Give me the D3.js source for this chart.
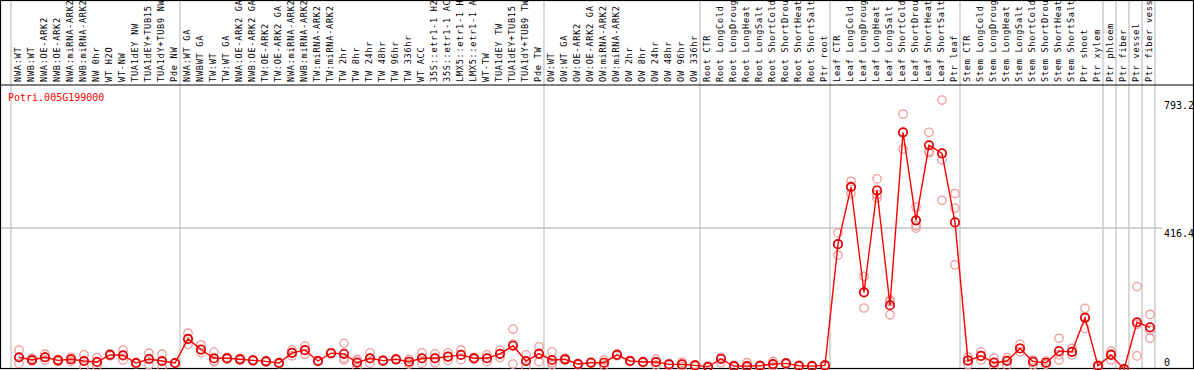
<!DOCTYPE html>
<meta charset="utf-8">
<html lang="en">
<head>
<title>Potri.005G199000</title>
<script src="https://d3js.org/d3.v7.min.js"></script>
<style>
  body { margin: 0; background: #fff; }
  svg text { font-family: "DejaVu Sans Mono", monospace; }
</style>
</head>
<body>
<svg id="chart" width="1194" height="370"></svg>
<script>

var geneId = "Potri.005G199000"

var samples = [
  "NWA:WT", "NWB:WT", "NWA:OE-ARK2", "NWB:OE-ARK2", "NWA:miRNA-ARK2", "NWB:miRNA-ARK2",
  "NW 0hr", "WT H2O", "WT-NW", "TUA1dEY NW", "TUA1dEY+TUB15", "TUA1dY+TUB9 NW", "Pde NW",
  "NWA:WT GA", "NWBWT GA", "TW:WT", "TW:WT GA", "NWA:OE-ARK2 GA", "NWB:OE-ARK2 GA",
  "TW:OE-ARK2", "TW:OE-ARK2 GA", "NWA:miRNA-ARK2", "NWB:miRNA-ARK2", "TW:miRNA-ARK2",
  "TW:miRNA-ARK2", "TW 2hr", "TW 8hr", "TW 24hr", "TW 48hr", "TW 96hr", "TW 336hr",
  "WT ACC", "35S::etr1-1 H2O", "35S::etr1-1 ACC", "LMX5::etr1-1 H2O", "LMX5::etr1-1 ACC",
  "WT-TW", "TUA1dEY TW", "TUA1dEY+TUB15", "TUA1dY+TUB9 TW", "Pde TW",
  "OW:WT", "OW:WT GA", "OW:OE-ARK2", "OW:OE-ARK2 GA", "OW:miRNA-ARK2", "OW:miRNA-ARK2",
  "OW 2hr", "OW 8hr", "OW 24hr", "OW 48hr", "OW 96hr", "OW 336hr",
  "Root CTR", "Root LongCold", "Root LongDrought", "Root LongHeat", "Root LongSalt",
  "Root ShortCold", "Root ShortDrought", "Root ShortHeat", "Root ShortSalt", "Ptr root",
  "Leaf CTR", "Leaf LongCold", "Leaf LongDrought", "Leaf LongHeat", "Leaf LongSalt",
  "Leaf ShortCold", "Leaf ShortDrought", "Leaf ShortHeat", "Leaf ShortSalt", "Ptr leaf",
  "Stem CTR", "Stem LongCold", "Stem LongDrought", "Stem LongHeat", "Stem LongSalt",
  "Stem ShortCold", "Stem ShortDrought", "Stem ShortHeat", "Stem ShortSalt",
  "Ptr shoot", "Ptr xylem", "Ptr phloem", "Ptr fiber", "Ptr vessel", "Ptr fiber vessel"
]

// first sample index of each group (last entry closes the chart)
var groupStarts = [0, 13, 41, 53, 63, 73, 84, 85, 86, 87, 88]

var yTicks = [0, 416.4, 793.2]

var means = [
  36, 28, 36, 27, 30, 25, 22, 43, 42, 19, 31, 25, 19,
  90, 59, 33, 33, 30, 27, 24, 19, 49, 57, 25, 48, 46, 20, 33, 26, 30, 23, 33, 33, 38, 43, 33, 33, 46, 70, 25, 46,
  28, 30, 16, 20, 20, 43, 25, 22, 22, 15, 15, 12,
  8, 31, 10, 10, 11, 16, 18, 11, 10, 12,
  369, 537, 227, 527, 189, 698, 439, 660, 636, 433,
  26, 40, 20, 25, 62, 23, 20, 54, 52, 152,
  11, 43, 1, 139, 124
]

var repA = [
  57, 33, 45, 30, 36, 43, 35, 46, 57, 21, 48, 45, 20,
  107, 72, 51, 36, 33, 29, 26, 21, 57, 69, 27, 50, 77, 30, 49, 28, 32, 30, 49, 46, 49, 57, 36, 43, 57, 119, 43, 67,
  52, 33, 18, 22, 28, 45, 27, 24, 30, 17, 22, 14,
  10, 36, 12, 20, 13, 24, 20, 13, 12, 14,
  402, 554, 274, 561, 205, 752, 478, 698, 793, 518,
  36, 52, 33, 35, 74, 28, 25, 92, 62, 180,
  13, 54, 3, 244, 162
]

var repB = [
  35, 27, 36, 27, 30, 25, 23, 43, 40, 19, 31, 25, 19,
  89, 57, 25, 33, 30, 27, 24, 19, 50, 57, 25, 48, 34, 25, 33, 26, 30, 23, 33, 33, 38, 43, 33, 33, 46, 75, 25, 48,
  20, 30, 16, 20, 20, 43, 25, 22, 22, 15, 15, 12,
  8, 31, 10, 10, 11, 16, 18, 11, 10, 12,
  369, 540, 227, 515, 200, 698, 423, 642, 617, 475,
  28, 40, 22, 28, 62, 23, 20, 43, 52, 155,
  11, 46, 1, 133, 116
]

var repC = [
  18, 25, 28, 24, 23, 8, 10, 40, 28, 17, 14, 5, 18,
  74, 50, 23, 30, 27, 25, 22, 17, 40, 45, 23, 46, 28, 5, 18, 24, 28, 16, 18, 20, 27, 29, 30, 23, 35, 16, 8, 23,
  13, 27, 14, 18, 12, 41, 23, 20, 13, 13, 8, 10,
  6, 20, 8, 5, 9, 10, 16, 9, 8, 10,
  337, 517, 181, 505, 161, 649, 416, 638, 498, 308,
  14, 28, 5, 12, 52, 13, 15, 28, 43, 121,
  9, 28, 0, 40, 92
]

var W = 1194, H = 370
var headerBottom = 85, plotBottom = 368

var svg = d3.select('#chart')

var x = d3.scaleLinear().domain([0, samples.length]).range([11, 11 + 13 * samples.length])
var y = d3.scaleLinear().domain([0, 793.2]).range([369.5, 100])

function px(i) { return x(i) + 8 }

// group separators
svg.append('g')
  .selectAll('line')
  .data(groupStarts)
  .enter().append('line')
    .attr('x1', function (d) { return x(d) })
    .attr('x2', function (d) { return x(d) })
    .attr('y1', 0)
    .attr('y2', plotBottom)
    .attr('stroke', '#c4c4c4')
    .attr('stroke-width', 1.3)

// horizontal grid at middle tick
svg.append('g')
  .selectAll('line')
  .data(yTicks.filter(function (d) { return d > 0 && d < d3.max(yTicks) }))
  .enter().append('line')
    .attr('x1', 1)
    .attr('x2', 1162)
    .attr('y1', function (d) { return y(d) })
    .attr('y2', function (d) { return y(d) })
    .attr('stroke', '#c4c4c4')
    .attr('stroke-width', 1.3)

// sample labels, rotated
svg.append('g')
  .selectAll('text')
  .data(samples)
  .enter().append('text')
    .attr('transform', function (d, i) { return 'translate(' + (x(i) + 10) + ',' + 82 + ') rotate(-90)' })
    .attr('font-size', 8.6)
    .attr('letter-spacing', 0.72)
    .attr('fill', '#000')
    .text(function (d) { return d })

// frame
svg.append('rect')
  .attr('x', 0.5).attr('y', 0.5)
  .attr('width', W - 1).attr('height', plotBottom)
  .attr('fill', 'none')
  .attr('stroke', '#000')
  .attr('stroke-width', 1.2)
svg.append('line')
  .attr('x1', 0).attr('x2', W)
  .attr('y1', headerBottom).attr('y2', headerBottom)
  .attr('stroke', '#000')
  .attr('stroke-width', 1.2)

// y tick labels on the right
svg.append('g')
  .selectAll('text')
  .data(yTicks)
  .enter().append('text')
    .attr('x', 1164)
    .attr('y', function (d) { return Math.min(y(d) + 9, 366) })
    .attr('font-size', 10)
    .attr('fill', '#000')
    .text(function (d) { return d === 0 ? '0' : d.toFixed(1) })

// gene name
svg.append('text')
  .attr('x', 8)
  .attr('y', 101)
  .attr('font-size', 10)
  .attr('fill', '#ff0000')
  .text(geneId)

// replicate points
var reps = [repA, repB, repC]
reps.forEach(function (rep) {
  svg.append('g')
    .selectAll('circle')
    .data(rep)
    .enter().append('circle')
      .attr('cx', function (d, i) { return px(i) })
      .attr('cy', function (d) { return y(d) })
      .attr('r', 4.2)
      .attr('fill', 'none')
      .attr('stroke', '#ee9a9a')
      .attr('stroke-width', 1.3)
})

// mean line
var line = d3.line()
  .x(function (d, i) { return px(i) })
  .y(function (d) { return y(d) })

svg.append('path')
  .datum(means)
  .attr('d', line)
  .attr('fill', 'none')
  .attr('stroke', '#ff0000')
  .attr('stroke-width', 1.4)

svg.append('g')
  .selectAll('circle')
  .data(means)
  .enter().append('circle')
    .attr('cx', function (d, i) { return px(i) })
    .attr('cy', function (d) { return y(d) })
    .attr('r', 4.2)
    .attr('fill', 'none')
    .attr('stroke', '#e00000')
    .attr('stroke-width', 1.7)
</script>
</body>
</html>
